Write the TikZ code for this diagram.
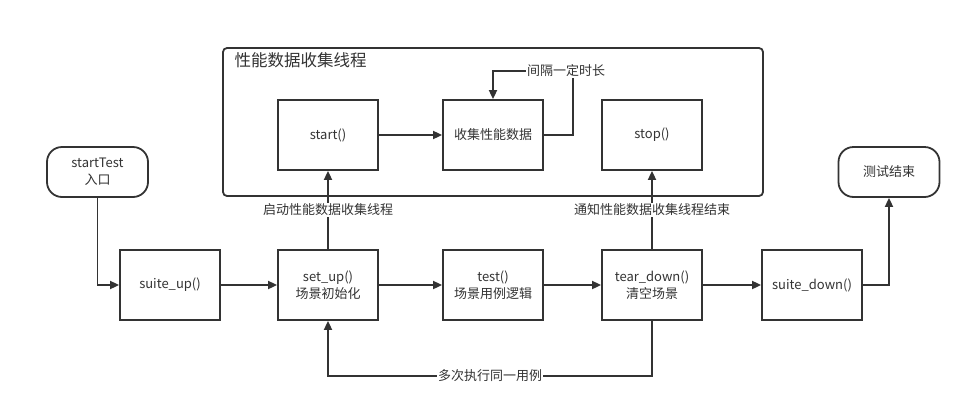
\documentclass[tikz,border=0pt]{standalone}
\usepackage{fontspec}
\setmainfont{Noto Sans CJK SC}
\usetikzlibrary{arrows.meta}
\definecolor{ink}{HTML}{333333}
\begin{document}
\begin{tikzpicture}[x=1pt,y=-1pt,
  txt/.style={font=\fontsize{13}{17}\selectfont,text=ink},
  box/.style={txt,draw=ink,line width=1.8pt,minimum width=100pt,minimum height=70pt,inner sep=0pt,align=center},
  term/.style={txt,draw=ink,line width=1.8pt,rounded corners=15pt,minimum width=101pt,minimum height=50pt,inner sep=0pt,align=center},
  group/.style={draw=ink,line width=1.8pt,rounded corners=4pt,minimum width=540pt,minimum height=148pt,inner sep=0pt},
  arr/.style={draw=ink,line width=1.8pt,-{Triangle[length=9pt,width=8pt]}},
  lbl/.style={txt,fill=white,inner sep=1pt}]
\useasboundingbox (0,0) rectangle (970,405);
\fill[white] (0,0) rectangle (970,405);
% container
\node[group] (grp) at (493,122) {};
\node[txt,font=\fontsize{16.5}{20}\selectfont,anchor=west] (title) at (231,60) {性能数据收集线程};
% top row
\node[box] (start) at (328,135) {start()};
\node[box] (collect) at (493,135) {收集性能数据};
\node[box] (stop) at (652,135) {stop()};
% bottom row
\node[term] (st) at (97.5,172) {startTest\\入口};
\node[box] (su) at (170,285) {suite\_up()};
\node[box] (setup) at (328,285) {set\_up()\\场景初始化};
\node[box] (test) at (493,285) {test()\\场景用例逻辑};
\node[box] (td) at (652,285) {tear\_down()\\清空场景};
\node[box] (sd) at (812,285) {suite\_down()};
\node[term] (end) at (889,172) {测试结束};
% connectors
\draw[arr] (st.south) |- (su.west);
\draw[arr] (su) -- (setup);
\draw[arr] (setup) -- (test);
\draw[arr] (test) -- (td);
\draw[arr] (td) -- (sd);
\draw[arr] (sd.east) -| (end.south);
\draw[arr] (start) -- (collect);
\draw[arr] (setup.north) -- node[lbl] (l1) {启动性能数据收集线程} (start.south);
\draw[arr] (td.north) -- node[lbl] (l2) {通知性能数据收集线程结束} (stop.south);
\coordinate (b1) at (652,376);
\coordinate (b2) at (328,376);
\draw[arr] (td.south) -- (b1) -- node[lbl] (l3) {多次执行同一用例} (b2) -- (setup.south);
\coordinate (c1) at (573,71);
\draw[arr] (collect.east) -| (c1) -| (collect.north);
\node[lbl] (l4) at (566,71) {间隔一定时长};
\end{tikzpicture}
\end{document}
